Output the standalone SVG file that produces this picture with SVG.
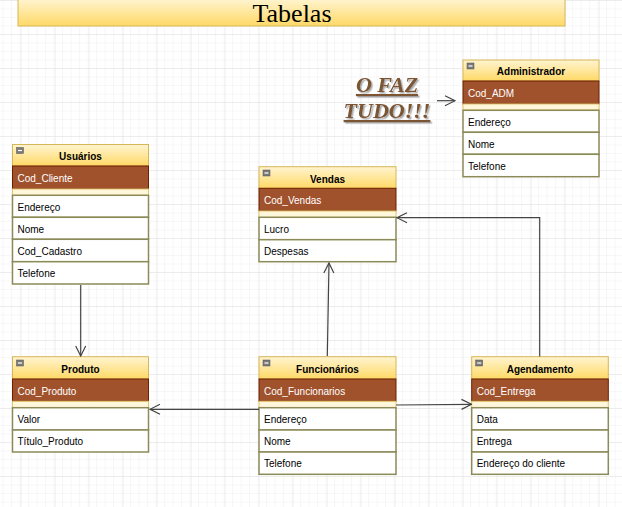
<svg xmlns="http://www.w3.org/2000/svg" width="622" height="507" viewBox="0 0 622 507">
<defs>
<pattern id="minor" width="8.5" height="8.5" patternUnits="userSpaceOnUse" x="3.6" y="1">
<path d="M8.5 0 V8.5 M0 8.5 H8.5" fill="none" stroke="#efefef" stroke-width="1"/>
</pattern>
<pattern id="major" width="34" height="34" patternUnits="userSpaceOnUse" x="20.6" y="0">
<path d="M0 0 V34 M0 0 H34" fill="none" stroke="#e2e2e2" stroke-width="1"/>
</pattern>
<linearGradient id="hdr" x1="0" y1="0" x2="0" y2="1">
<stop offset="0" stop-color="#fff4d0"/>
<stop offset="1" stop-color="#ffd966"/>
</linearGradient>
<marker id="arr" viewBox="0 0 12 12" refX="11" refY="6" markerWidth="12" markerHeight="12" markerUnits="userSpaceOnUse" orient="auto">
<path d="M1 1 L11 6 L1 11" fill="none" stroke="#444" stroke-width="1.2"/>
</marker>
<filter id="sh" x="-10%" y="-10%" width="130%" height="140%">
<feDropShadow dx="1.5" dy="1.5" stdDeviation="0.6" flood-color="#999" flood-opacity="0.8"/>
</filter>
</defs>
<style>
.hd{fill:url(#hdr);stroke:#d6b656;stroke-width:1}
.key{fill:#a0522d;stroke:#6d1f00;stroke-width:1}
.sep{fill:#fff7dc;stroke:#e0c46c;stroke-width:1}
.row{fill:#fff;stroke:#8c8a58;stroke-width:1.5}
.ico{fill:#7a7a7a;stroke:#555;stroke-width:0.5}
.icl{stroke:#fff;stroke-width:1.2}
.ttl{font-family:"Liberation Sans",Arial,sans-serif;font-size:10px;font-weight:bold;fill:#000;text-anchor:middle}
.kt{font-family:"Liberation Sans",Arial,sans-serif;font-size:10px;fill:#fff}
.ft{font-family:"Liberation Sans",Arial,sans-serif;font-size:10px;fill:#000}
.con{fill:none;stroke:#444;stroke-width:1.2;marker-end:url(#arr)}
</style>
<rect width="622" height="507" fill="#fff"/>
<rect width="622" height="507" fill="url(#minor)"/>
<rect width="622" height="507" fill="url(#major)"/>

<g id="titulo">
<rect x="18" y="-1" width="547" height="27" fill="url(#hdr)" stroke="#d6b656"/>
<text x="292" y="22" font-family="'Liberation Serif','Times New Roman',serif" font-size="26" text-anchor="middle" fill="#000">Tabelas</text>
</g>

<g id="faztudo" filter="url(#sh)">
<text x="387" y="92" font-family="'Liberation Serif','Times New Roman',serif" font-size="22" font-weight="bold" font-style="italic" text-decoration="underline" fill="#7b5432" text-anchor="middle">O FAZ</text>
<text x="387" y="118" font-family="'Liberation Serif','Times New Roman',serif" font-size="22" font-weight="bold" font-style="italic" text-decoration="underline" fill="#7b5432" text-anchor="middle">TUDO!!!</text>
</g>

<g id="administrador">
<rect class="hd" x="463" y="60" width="136" height="21"/>
<rect class="ico" x="467" y="63" width="7" height="6"/><line class="icl" x1="468.5" y1="66" x2="472.5" y2="66"/>
<text class="ttl" x="531" y="75">Administrador</text>
<rect class="key" x="463" y="81" width="136" height="23"/>
<text class="kt" x="468" y="96.5">Cod_ADM</text>
<rect class="sep" x="463" y="104" width="136" height="6"/>
<rect class="row" x="463" y="110.3" width="136" height="22"/>
<text class="ft" x="468" y="125.5">Endereço</text>
<rect class="row" x="463" y="132.3" width="136" height="22"/>
<text class="ft" x="468" y="147.5">Nome</text>
<rect class="row" x="463" y="154.3" width="136" height="22.4"/>
<text class="ft" x="468" y="169.5">Telefone</text>
</g>

<g id="usuarios">
<rect class="hd" x="12.5" y="144.5" width="136" height="21.5"/>
<rect class="ico" x="16.5" y="147.5" width="7" height="6"/><line class="icl" x1="18" y1="150.5" x2="22" y2="150.5"/>
<text class="ttl" x="80.5" y="160">Usuários</text>
<rect class="key" x="12.5" y="166" width="136" height="23"/>
<text class="kt" x="17.5" y="181.5">Cod_Cliente</text>
<rect class="sep" x="12.5" y="189" width="136" height="6.3"/>
<rect class="row" x="12.5" y="195.3" width="136" height="22"/>
<text class="ft" x="17.5" y="210.5">Endereço</text>
<rect class="row" x="12.5" y="217.3" width="136" height="22"/>
<text class="ft" x="17.5" y="232.5">Nome</text>
<rect class="row" x="12.5" y="239.3" width="136" height="22.4"/>
<text class="ft" x="17.5" y="254.7">Cod_Cadastro</text>
<rect class="row" x="12.5" y="261.7" width="136" height="22.3"/>
<text class="ft" x="17.5" y="277">Telefone</text>
</g>

<g id="vendas">
<rect class="hd" x="259" y="166.7" width="137" height="21.6"/>
<rect class="ico" x="263" y="170" width="7" height="6"/><line class="icl" x1="264.5" y1="173" x2="268.5" y2="173"/>
<text class="ttl" x="327.5" y="182.5">Vendas</text>
<rect class="key" x="259" y="188.3" width="137" height="22.7"/>
<text class="kt" x="264" y="204">Cod_Vendas</text>
<rect class="sep" x="259" y="211" width="137" height="6.3"/>
<rect class="row" x="259" y="217.3" width="137" height="22.4"/>
<text class="ft" x="264" y="232.7">Lucro</text>
<rect class="row" x="259" y="239.7" width="137" height="22"/>
<text class="ft" x="264" y="255">Despesas</text>
</g>

<g id="produto">
<rect class="hd" x="12.5" y="356.7" width="136" height="22.3"/>
<rect class="ico" x="16.5" y="360" width="7" height="6"/><line class="icl" x1="18" y1="363" x2="22" y2="363"/>
<text class="ttl" x="80.5" y="372.5">Produto</text>
<rect class="key" x="12.5" y="379" width="136" height="22.3"/>
<text class="kt" x="17.5" y="394.5">Cod_Produto</text>
<rect class="sep" x="12.5" y="401.3" width="136" height="6.4"/>
<rect class="row" x="12.5" y="407.7" width="136" height="22.3"/>
<text class="ft" x="17.5" y="423">Valor</text>
<rect class="row" x="12.5" y="430" width="136" height="22"/>
<text class="ft" x="17.5" y="445">Título_Produto</text>
</g>

<g id="funcionarios">
<rect class="hd" x="259" y="356.7" width="137" height="22.3"/>
<rect class="ico" x="263" y="360" width="7" height="6"/><line class="icl" x1="264.5" y1="363" x2="268.5" y2="363"/>
<text class="ttl" x="327.5" y="372.5">Funcionários</text>
<rect class="key" x="259" y="379" width="137" height="22.3"/>
<text class="kt" x="264" y="394.5">Cod_Funcionarios</text>
<rect class="sep" x="259" y="401.3" width="137" height="6.4"/>
<rect class="row" x="259" y="407.7" width="137" height="22.3"/>
<text class="ft" x="264" y="423">Endereço</text>
<rect class="row" x="259" y="430" width="137" height="22"/>
<text class="ft" x="264" y="445">Nome</text>
<rect class="row" x="259" y="452" width="137" height="22.3"/>
<text class="ft" x="264" y="467">Telefone</text>
</g>

<g id="agendamento">
<rect class="hd" x="471.7" y="356.7" width="136.6" height="22.3"/>
<rect class="ico" x="475.7" y="360" width="7" height="6"/><line class="icl" x1="477.2" y1="363" x2="481.2" y2="363"/>
<text class="ttl" x="540" y="372.5">Agendamento</text>
<rect class="key" x="471.7" y="379" width="136.6" height="22.3"/>
<text class="kt" x="476.7" y="394.5">Cod_Entrega</text>
<rect class="sep" x="471.7" y="401.3" width="136.6" height="6.4"/>
<rect class="row" x="471.7" y="407.7" width="136.6" height="22.3"/>
<text class="ft" x="476.7" y="423">Data</text>
<rect class="row" x="471.7" y="430" width="136.6" height="22"/>
<text class="ft" x="476.7" y="445">Entrega</text>
<rect class="row" x="471.7" y="452" width="136.6" height="22.3"/>
<text class="ft" x="476.7" y="467">Endereço do cliente</text>
</g>

<g id="connectors">
<path class="con" d="M80.7 285 V356"/>
<path class="con" d="M327.3 356 L329 263"/>
<path class="con" d="M259 409.3 H150"/>
<path class="con" d="M396 405 L471.5 404.3"/>
<path class="con" d="M539.7 356.5 V217.7 H397"/>
<path class="con" d="M437 100.7 H455"/>
</g>
</svg>
